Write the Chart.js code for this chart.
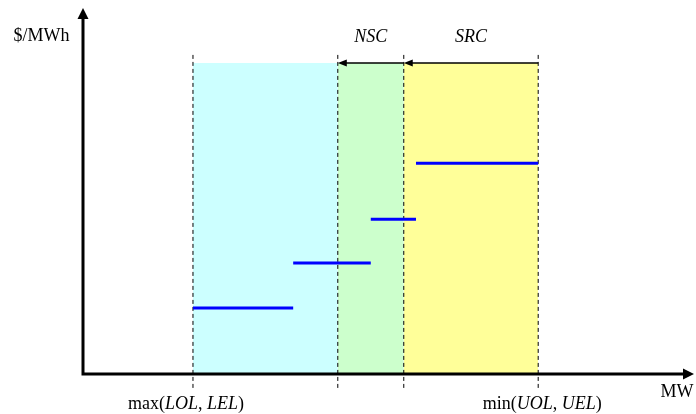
<!DOCTYPE html>
<html>
<head>
<meta charset="utf-8">
<script src="https://cdn.jsdelivr.net/npm/chart.js@4.4.0/dist/chart.umd.min.js"></script>
<style>
  html, body { margin: 0; padding: 0; background: #fff; }
  #wrap { width: 696px; height: 414px; }
</style>
</head>
<body>
<div id="wrap"><canvas id="myChart" width="696" height="414"></canvas></div>
<script>
// MW positions of the limits (x axis, 0..100)
let limit_x = [18.0, 41.7, 52.5, 74.5];   // max(LOL,LEL), NSC start, SRC start, min(UOL,UEL)
let zone_colors = ['#ccffff', '#ccffcc', '#ffff99'];
let zone_top = 85.0;
let dash_range = [-3.8, 88.0];

// offer curve steps ($/MWh)
let step_x = [18.0, 34.4, 47.1, 54.5, 74.5];
let step_price = [18.0, 30.3, 42.3, 57.6];

let datasets = [];

// shaded zones
for (let i = 0; i < 3; i++) {
  datasets.push({
    data: [{x: limit_x[i], y: zone_top}, {x: limit_x[i+1], y: zone_top}],
    borderWidth: 0,
    pointRadius: 0,
    backgroundColor: zone_colors[i],
    fill: 'origin',
    order: 3
  });
}

// dashed limit lines
for (let i = 0; i < limit_x.length; i++) {
  datasets.push({
    data: [{x: limit_x[i], y: dash_range[0]}, {x: limit_x[i], y: dash_range[1]}],
    borderColor: '#000',
    borderWidth: 1,
    borderDash: [4, 3],
    pointRadius: 0,
    clip: false,
    order: 1
  });
}

// price steps
for (let i = 0; i < step_price.length; i++) {
  datasets.push({
    data: [{x: step_x[i], y: step_price[i]}, {x: step_x[i+1], y: step_price[i]}],
    borderColor: '#0000ff',
    borderWidth: 3,
    pointRadius: 0,
    borderCapStyle: 'butt',
    order: 0
  });
}

function arrowHead(ctx, x, y, dir, len, half) {
  // dir: 'left','right','up'
  ctx.beginPath();
  if (dir === 'left') {
    ctx.moveTo(x, y); ctx.lineTo(x + len, y - half); ctx.lineTo(x + len, y + half);
  } else if (dir === 'right') {
    ctx.moveTo(x, y); ctx.lineTo(x - len, y - half); ctx.lineTo(x - len, y + half);
  } else {
    ctx.moveTo(x, y); ctx.lineTo(x - half, y + len); ctx.lineTo(x + half, y + len);
  }
  ctx.closePath();
  ctx.fill();
}

function drawRuns(ctx, runs, cx, y) {
  let size = 18;
  let total = 0;
  runs.forEach(function(r) {
    ctx.font = (r[1] ? 'italic ' : '') + size + 'px "Liberation Serif", "Times New Roman", serif';
    total += ctx.measureText(r[0]).width;
  });
  let x = cx - total / 2;
  runs.forEach(function(r) {
    ctx.font = (r[1] ? 'italic ' : '') + size + 'px "Liberation Serif", "Times New Roman", serif';
    ctx.fillText(r[0], x, y);
    x += ctx.measureText(r[0]).width;
  });
}

const decor = {
  id: 'decor',
  afterDatasetsDraw(chart) {
    const ctx = chart.ctx;
    const xs = chart.scales.x, ys = chart.scales.y;
    const area = chart.chartArea;
    ctx.save();
    ctx.fillStyle = '#000';
    ctx.strokeStyle = '#000';

    // NSC / SRC arrows
    let ay = ys.getPixelForValue(zone_top);
    ctx.lineWidth = 1.5;
    for (let i = 3; i > 1; i--) {
      let x0 = xs.getPixelForValue(limit_x[i]);
      let x1 = xs.getPixelForValue(limit_x[i-1]);
      ctx.beginPath();
      ctx.moveTo(x0, ay);
      ctx.lineTo(x1 + 6, ay);
      ctx.stroke();
      arrowHead(ctx, x1, ay, 'left', 9, 3.5);
    }

    // axes
    let ox = area.left, oy = area.bottom;
    ctx.lineWidth = 3;
    ctx.beginPath();
    ctx.moveTo(ox, oy);
    ctx.lineTo(ox, area.top + 8);
    ctx.moveTo(ox - 1.5, oy);
    ctx.lineTo(area.right - 8, oy);
    ctx.stroke();
    arrowHead(ctx, ox, area.top, 'up', 11, 5.5);
    arrowHead(ctx, area.right, oy, 'right', 11, 5.5);

    // labels
    ctx.textBaseline = 'alphabetic';
    ctx.textAlign = 'left';
    drawRuns(ctx, [['$/MWh', false]], 41.5, 41);
    drawRuns(ctx, [['MW', false]], 677, 397);
    drawRuns(ctx, [['NSC', true]], (xs.getPixelForValue(limit_x[1]) + xs.getPixelForValue(limit_x[2])) / 2, 42);
    drawRuns(ctx, [['SRC', true]], (xs.getPixelForValue(limit_x[2]) + xs.getPixelForValue(limit_x[3])) / 2, 42);
    drawRuns(ctx, [['max(', false], ['LOL', true], [', ', false], ['LEL', true], [')', false]],
      xs.getPixelForValue(limit_x[0]) - 7, 409);
    drawRuns(ctx, [['min(', false], ['UOL', true], [', ', false], ['UEL', true], [')', false]],
      xs.getPixelForValue(limit_x[3]) + 4, 409);
    ctx.restore();
  }
};

let config = {
  type: 'line',
  data: { datasets: datasets },
  options: {
    responsive: false,
    animation: false,
    layout: { padding: { left: 83, right: 2, top: 8, bottom: 40 } },
    plugins: {
      legend: { display: false },
      tooltip: { enabled: false },
      filler: { drawTime: 'beforeDatasetsDraw' }
    },
    scales: {
      x: { type: 'linear', min: 0, max: 100, display: false },
      y: { type: 'linear', min: 0, max: 100, display: false }
    }
  },
  plugins: [decor]
};

let myChart = new Chart(document.getElementById('myChart'), config);
</script>
</body>
</html>
